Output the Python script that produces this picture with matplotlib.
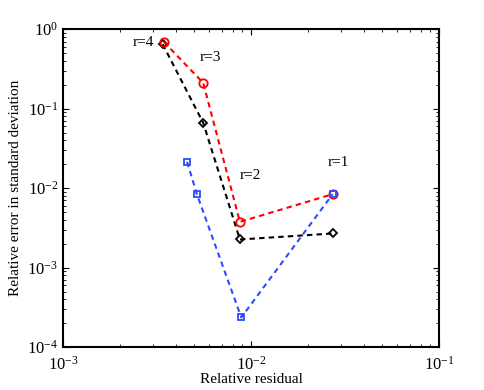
import matplotlib
matplotlib.use("Agg")
import matplotlib.pyplot as plt

plt.rcParams['font.family'] = 'Liberation Serif'
plt.rcParams['mathtext.fontset'] = 'stix'

# residual / error per rank r = 4, 3, 2, 1
res_black = [0.00339, 0.00557, 0.00873, 0.0272]
err_black = [0.648, 0.0663, 0.00226, 0.00269]
res_red = [0.00344, 0.00557, 0.00873, 0.0272]
err_red = [0.692, 0.211, 0.00377, 0.0084]
res_blue = [0.00457, 0.00516, 0.00888, 0.0272]
err_blue = [0.0214, 0.00833, 0.000236, 0.0084]

labels = ['r=4', 'r=3', 'r=2', 'r=1']
label_x = [0.00267, 0.00605, 0.00988, 0.0290]
label_y = [0.686, 0.444, 0.0146, 0.0212]

fig = plt.figure(figsize=(4.85, 3.9), dpi=100)
ax = fig.add_axes([0.130, 0.110, 0.775, 0.815])

dash = (2.6, 2.0)
ax.plot(res_black, err_black, 'k--', dashes=dash, marker='D', markersize=4.5, mfc='none', mew=1.3, lw=1.5)
ax.plot(res_red, err_red, '--', dashes=dash, color='#ff0000', marker='o', markersize=6, mfc='none', mew=1.3, lw=1.5)
ax.plot(res_blue, err_blue, '--', dashes=dash, color='#2b4bff', marker='s', markersize=4.5, mfc='none', mew=1.3, lw=1.5)

for t, x, y in zip(labels, label_x, label_y):
    ax.text(x, y, t, ha='center', va='center', fontsize=11)

ax.set_xscale('log')
ax.set_yscale('log')
ax.set_xlim(1e-3, 1e-1)
ax.set_ylim(1e-4, 1e0)
ax.tick_params(which='both', direction='in', top=True, right=True, labelsize=12)
ax.tick_params(which='major', length=4)
ax.tick_params(which='minor', length=2)
ax.tick_params(axis='x', pad=6)
for s in ax.spines.values():
    s.set_linewidth(1.5)

ax.set_xlabel('Relative residual', fontsize=11, labelpad=0)
ax.set_ylabel('Relative error in standard deviation', fontsize=11)

fig.savefig('out.png', dpi=100)
